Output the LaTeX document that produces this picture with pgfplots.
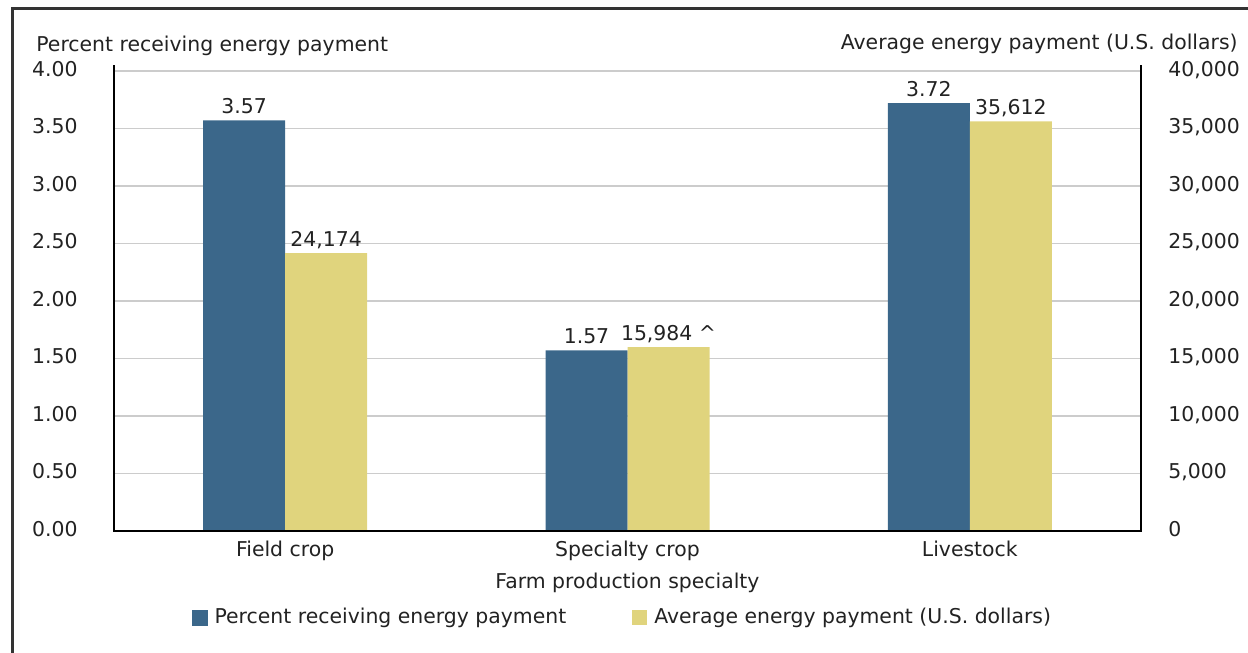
\documentclass[border=0pt]{standalone}
\usepackage{pgfplots}
\pgfplotsset{compat=1.18}
\usepackage{pgfplotstable}
\usepackage{fontspec}
\setmainfont{DejaVu Sans}
\definecolor{barblue}{RGB}{59,103,138}
\definecolor{baryellow}{RGB}{224,212,125}
\definecolor{txt}{RGB}{34,34,34}
\definecolor{gridc}{RGB}{204,204,204}
\definecolor{framec}{RGB}{51,51,51}

\pgfplotstableread{
x pct
0 3.57
1 1.57
2 3.72
}\pctdata
\pgfplotstableread{
x pay lab
0 24174 24,174
1 15984 15,984~\textasciicircum
2 35612 35,612
}\paydata

\begin{document}
\begin{tikzpicture}[font=\fontsize{10.2bp}{12.2bp}\selectfont\color{txt}]
\useasboundingbox (0bp,0bp) rectangle (624bp,-326.5bp);
\draw[line width=1.6bp, framec] (6.3bp,-340bp) -- (6.3bp,-4.2bp) -- (640bp,-4.2bp);
\node[anchor=base west, inner sep=0] at (18bp,-25.5bp) {Percent receiving energy payment};
\node[anchor=base east, inner sep=0] at (619bp,-24.8bp) {Average energy payment (U.S. dollars)};

\begin{axis}[
  at={(57bp,-265.5bp)}, anchor=south west,
  scale only axis, width=513.5bp, height=230bp,
  xmin=-0.5, xmax=2.5, ymin=0, ymax=4,
  clip=false,
  ybar, bar width=41bp,
  xtick={0,1,2}, xticklabels={Field crop,Specialty crop,Livestock},
  ytick={0,0.5,1,1.5,2,2.5,3,3.5,4},
  ymajorgrids, grid style={gridc, line width=0.6bp},
  major tick length=0,
  axis line style={draw=none},
  xticklabel style={anchor=base, inner sep=0, yshift=-12.5bp},
  yticklabel style={anchor=base east, inner sep=0, xshift=-18bp, yshift=-2.7bp},
  xlabel={Farm production specialty},
  xlabel style={at={(rel axis cs:0.5,0)}, anchor=base, inner sep=0, yshift=-28.5bp},
  /pgf/number format/.cd, fixed, fixed zerofill, precision=2, assume math mode=true,
  /pgfplots/.cd,
  nodes near coords,
  nodes near coords style={anchor=base, inner sep=0, yshift=3.35bp},
]
\addplot[fill=barblue, draw=none, bar shift=-20.5bp] table[x=x,y=pct]{\pctdata};
\end{axis}

\begin{axis}[
  at={(57bp,-265.5bp)}, anchor=south west,
  scale only axis, width=513.5bp, height=230bp,
  xmin=-0.5, xmax=2.5, ymin=0, ymax=40000,
  clip=false,
  ybar, bar width=41bp,
  xtick=\empty,
  ytick={0,5000,10000,15000,20000,25000,30000,35000,40000},
  scaled y ticks=false,
  yticklabel pos=right,
  major tick length=0,
  axis line style={draw=none},
  yticklabel style={anchor=base west, inner sep=0, xshift=13.5bp, yshift=-2.7bp},
  /pgf/number format/.cd, fixed, 1000 sep={,}, assume math mode=true,
  /pgfplots/.cd,
  legend style={at={(0.496,-0.188)}, anchor=center, draw=none, fill=none,
    legend columns=2,
    /tikz/every odd column/.append style={column sep=1.5bp},
    /tikz/every even column/.append style={column sep=31bp}},
  legend cell align=left,
]
\addlegendimage{legend image code/.code={\fill[barblue] (0bp,-3.75bp) rectangle (7.5bp,3.75bp);}}
\addlegendentry{Percent receiving energy payment}
\addplot[fill=baryellow, draw=none, bar shift=20.5bp,
  nodes near coords, point meta=explicit symbolic,
  nodes near coords style={anchor=base, inner sep=0, yshift=3.35bp},
  legend image code/.code={\fill[baryellow] (0bp,-3.75bp) rectangle (7.5bp,3.75bp);}]
  table[x=x,y=pay,meta=lab]{\paydata};
\addlegendentry{Average energy payment (U.S. dollars)}
\draw[line width=1.3bp, black] (rel axis cs:0,1.013) -- (rel axis cs:0,0) -- (rel axis cs:1,0) -- (rel axis cs:1,1.013);
\end{axis}
\end{tikzpicture}
\end{document}
